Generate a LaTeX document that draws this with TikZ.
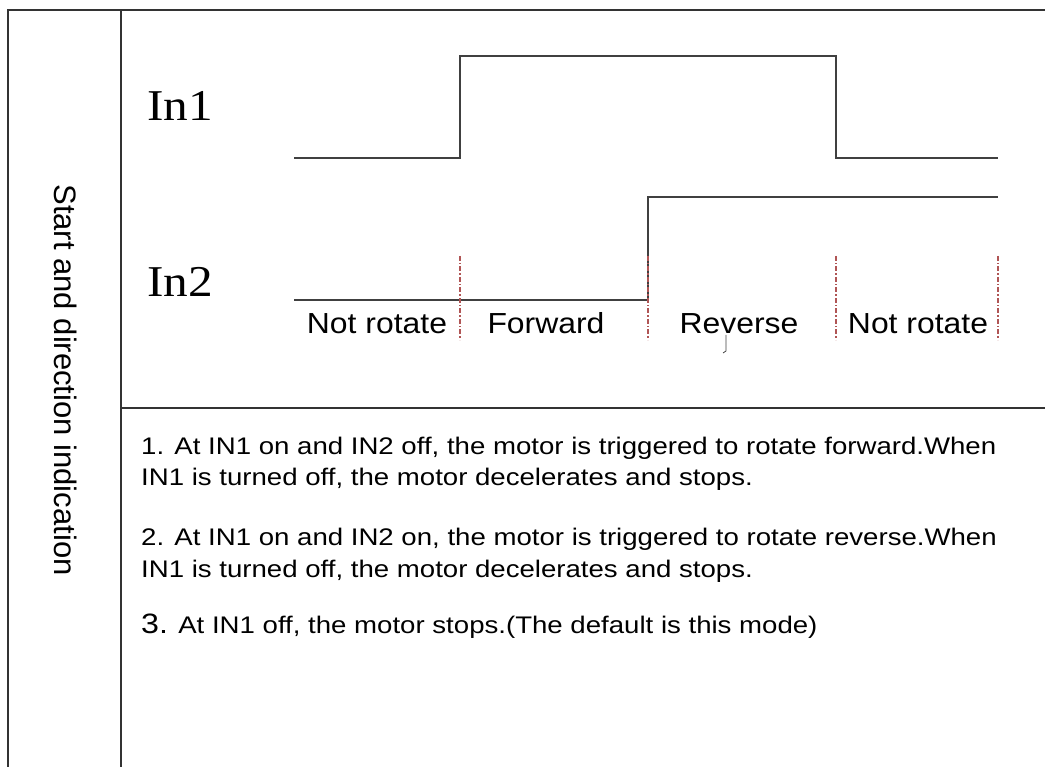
\documentclass[tikz,border=0pt]{standalone}
\usepackage{fontspec}
\setmainfont{Liberation Sans}
\newfontfamily\serifsig{Liberation Serif}
\definecolor{frame}{HTML}{333333}
\definecolor{sig}{HTML}{404040}
\definecolor{mark}{HTML}{B05555}
\begin{document}
\begin{tikzpicture}[x=1pt,y=-1pt,
  frameline/.style={draw=frame,line width=1.4pt},
  sigline/.style={draw=sig,line width=2pt,line join=miter},
  markline/.style={draw=mark,line width=1.3pt,dash pattern=on 5pt off 2pt on 1.5pt off 2pt},
  statelabel/.style={font=\fontsize{29}{29}\selectfont,xscale=1.1,inner sep=0pt,anchor=base},
  siglabel/.style={font=\serifsig\fontsize{44}{44}\selectfont,xscale=1.12,inner sep=0pt,anchor=base west},
  bodytext/.style={font=\fontsize{24}{24}\selectfont,xscale=1.15,inner sep=0pt,anchor=base west}]
\useasboundingbox (0,0) rectangle (1045,767);
% frame
\draw[frameline] (8,767) -- (8,10) -- (1045,10);
\draw[frameline] (121,10) -- (121,767);
\draw[frameline] (121,408) -- (1045,408);
% side title
\node[font=\fontsize{31}{31}\selectfont,rotate=-90,inner sep=0pt] (title) at (66,380) {Start and direction indication};
% signal labels
\node[siglabel] (in1) at (147,121) {In1};
\node[siglabel] (in2) at (147,297) {In2};
% timing coordinates
\coordinate (a0) at (294,158);
\coordinate (a1) at (460,158);
\coordinate (a2) at (460,56);
\coordinate (a3) at (836,56);
\coordinate (a4) at (836,158);
\coordinate (a5) at (998,158);
\coordinate (b0) at (294,300);
\coordinate (b1) at (648,300);
\coordinate (b2) at (648,197);
\coordinate (b3) at (998,197);
\draw[sigline] (a0) -- (a1) -- (a2) -- (a3) -- (a4) -- (a5);
\draw[sigline] (b0) -- (b1) -- (b2) -- (b3);
% state boundaries
\foreach \x/\n in {460/m1,648/m2,836/m3,998/m4}{
  \coordinate (\n t) at (\x,256);
  \coordinate (\n b) at (\x,340);
  \draw[markline] (\n t) -- (\n b);
}
% state labels
\node[statelabel] (s1) at (377,334) {Not rotate};
\node[statelabel] (s2) at (546,334) {Forward};
\node[statelabel] (s3) at (739,334) {Reverse};
\node[statelabel] (s4) at (918,334) {Not rotate};
\draw[draw=sig,line width=0.8pt] (726,335) -- (726,351) -- (723,353);
% description
\node[bodytext] (l1) at (141,454) {1. At IN1 on and IN2 off, the motor is triggered to rotate forward.When};
\node[bodytext] (l2) at (141,485) {IN1 is turned off, the motor decelerates and stops.};
\node[bodytext] (l3) at (141,545) {2. At IN1 on and IN2 on, the motor is triggered to rotate reverse.When};
\node[bodytext] (l4) at (141,577) {IN1 is turned off, the motor decelerates and stops.};
\node[bodytext] (l5) at (141,633) {{\fontsize{28}{28}\selectfont 3.} At IN1 off, the motor stops.(The default is this mode)};
\end{tikzpicture}
\end{document}
